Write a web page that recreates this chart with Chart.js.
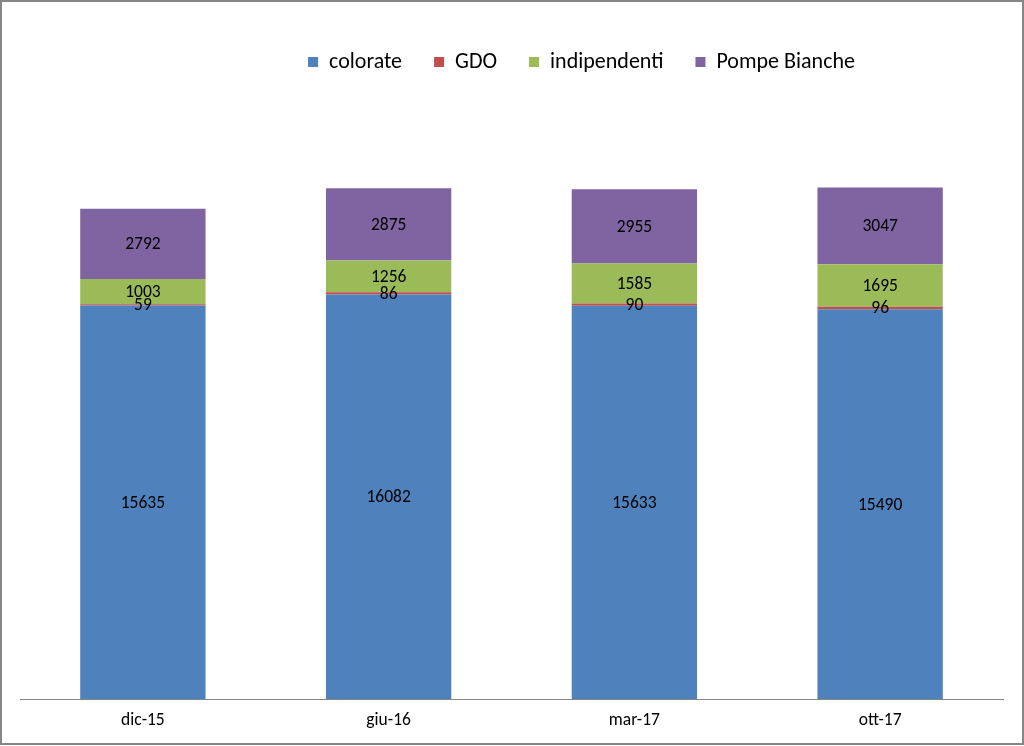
<!DOCTYPE html>
<html>
<head>
<meta charset="utf-8">
<script src="https://cdn.jsdelivr.net/npm/chart.js@4"></script>
<style>
  html, body { margin: 0; padding: 0; background: #fff; }
  #wrap { width: 1024px; height: 746px; }
</style>
</head>
<body>
<div id="wrap"><canvas id="chart" width="1024" height="746"></canvas></div>
<script>
// Categories and series
const periods = ['dic-15', 'giu-16', 'mar-17', 'ott-17'];
const colorate = [15635, 16082, 15633, 15490];
const gdo = [59, 86, 90, 96];
const indipendenti = [1003, 1256, 1585, 1695];
const pompeBianche = [2792, 2875, 2955, 3047];

const fontFamily = 'Carlito, Lato, "Open Sans", sans-serif';

// Value labels in the middle of each segment
const segmentLabels = {
    id: 'segmentLabels',
    afterDatasetsDraw(chart) {
        const ctx = chart.ctx;
        ctx.save();
        ctx.font = '17.5px ' + fontFamily;
        ctx.fillStyle = '#000';
        ctx.textAlign = 'center';
        ctx.textBaseline = 'middle';
        chart.data.datasets.forEach((ds, i) => {
            const meta = chart.getDatasetMeta(i);
            meta.data.forEach((bar, j) => {
                const y = (bar.y + bar.base) / 2;
                ctx.fillText(ds.data[j], bar.x, y + 1);
            });
        });
        ctx.restore();
    }
};

// Legend: less space under it, and shifted right like the original
const legendCut = 13;
const legendTweak = {
    id: 'legendTweak',
    beforeInit(chart) {
        const lg = chart.legend;
        if (!lg) return;
        const fit = lg.fit.bind(lg);
        lg.fit = function () {
            fit();
            this.height -= legendCut;
        };
        const draw = lg.draw.bind(lg);
        lg.draw = function () {
            const c = this.ctx;
            // give the clip box its height back so descenders are not cut
            this.bottom += legendCut;
            this.height += legendCut;
            c.save();
            c.translate(70, 0);
            draw();
            c.restore();
            this.bottom -= legendCut;
            this.height -= legendCut;
        };
    }
};

// Grey frame round the chart
const frame = {
    id: 'frame',
    afterDraw(chart) {
        const ctx = chart.ctx;
        ctx.save();
        ctx.strokeStyle = '#868686';
        ctx.lineWidth = 2;
        ctx.strokeRect(1, 1, chart.width - 2, chart.height - 3);
        ctx.restore();
    }
};

const chart = new Chart(document.getElementById('chart'), {
    type: 'bar',
    data: {
        labels: periods,
        datasets: [
            { label: 'colorate', data: colorate, backgroundColor: '#4F81BD' },
            { label: 'GDO', data: gdo, backgroundColor: '#C0504D' },
            { label: 'indipendenti', data: indipendenti, backgroundColor: '#9BBB59' },
            { label: 'Pompe Bianche', data: pompeBianche, backgroundColor: '#8064A2' }
        ]
    },
    options: {
        responsive: false,
        animation: false,
        layout: { padding: { left: 20, right: 21, top: 19, bottom: 12 } },
        datasets: { bar: { categoryPercentage: 1, barPercentage: 0.51 } },
        scales: {
            x: {
                stacked: true,
                grid: { display: false },
                border: { color: '#868686', width: 1 },
                ticks: { color: '#000', font: { family: fontFamily, size: 17.5 }, padding: 3 }
            },
            y: {
                stacked: true,
                display: false,
                min: 0,
                max: 25000
            }
        },
        plugins: {
            legend: {
                position: 'top',
                labels: {
                    boxWidth: 10,
                    boxHeight: 10,
                    padding: 32,
                    color: '#000',
                    font: { family: fontFamily, size: 22 }
                }
            },
            tooltip: { enabled: false }
        }
    },
    plugins: [legendTweak, segmentLabels, frame]
});
</script>
</body>
</html>
